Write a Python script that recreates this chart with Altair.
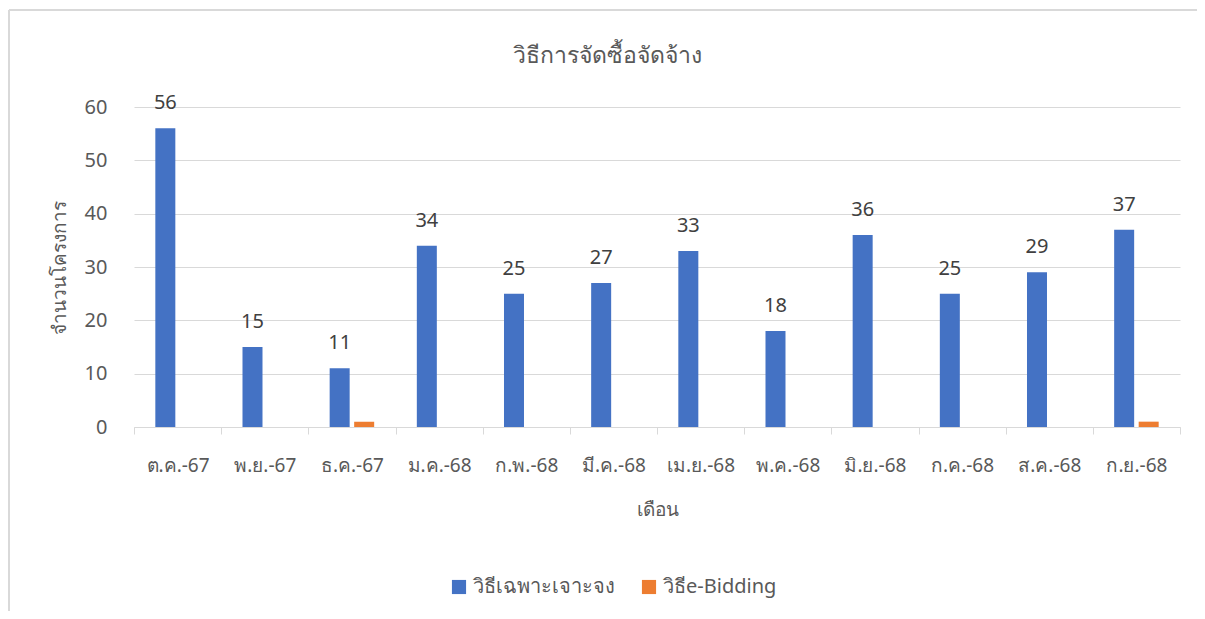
import altair as alt
import pandas as pd

months = ["ต.ค.-67", "พ.ย.-67", "ธ.ค.-67", "ม.ค.-68", "ก.พ.-68", "มี.ค.-68",
          "เม.ย.-68", "พ.ค.-68", "มิ.ย.-68", "ก.ค.-68", "ส.ค.-68", "ก.ย.-68"]
series_names = ["วิธีเฉพาะเจาะจง", "วิธีe-Bidding"]
specific = [56, 15, 11, 34, 25, 27, 33, 18, 36, 25, 29, 37]
ebidding = [0, 0, 1, 0, 0, 0, 0, 0, 0, 0, 0, 1]
colors = ["#4472C4", "#ED7D31"]

rows = []
for i, m in enumerate(months):
    rows.append({"month": m, "series": series_names[0], "value": specific[i]})
    rows.append({"month": m, "series": series_names[1], "value": ebidding[i]})
df = pd.DataFrame(rows)

FONT = "Noto Sans"
GREY = "#595959"

x_enc = alt.X("month:N", sort=months,
              scale=alt.Scale(paddingInner=0, paddingOuter=0),
              axis=alt.Axis(title="เดือน", labelAngle=0, tickBand="extent",
                            tickSize=7, tickColor="#d9d9d9", domainColor="#d9d9d9",
                            labelPadding=22, labelFontSize=19, labelColor=GREY,
                            titleFontSize=19, titleColor=GREY, titleFontWeight="normal",
                            titlePadding=25, labelFont=FONT, titleFont=FONT, grid=False))
xoff = alt.XOffset("series:N", sort=series_names,
                   scale=alt.Scale(domain=series_names, paddingInner=0.184, paddingOuter=0.87))

bars = alt.Chart(df).mark_bar().encode(
    x=x_enc,
    xOffset=xoff,
    y=alt.Y("value:Q", scale=alt.Scale(domain=[0, 60]),
            axis=alt.Axis(title="จำนวนโครงการ", values=[0, 10, 20, 30, 40, 50, 60],
                          ticks=False, domain=False, gridColor="#d9d9d9",
                          labelPadding=27, labelFontSize=20, labelColor=GREY,
                          titleFontSize=19, titleColor=GREY, titleFontWeight="normal",
                          titlePadding=15, labelFont=FONT, titleFont=FONT)),
    color=alt.Color("series:N", sort=series_names,
                    scale=alt.Scale(domain=series_names, range=colors),
                    legend=alt.Legend(title=None, orient="none", direction="horizontal",
                                      legendX=315, legendY=470, symbolType="square",
                                      symbolSize=200, symbolStrokeWidth=0,
                                      labelFontSize=20, labelColor=GREY, labelFont=FONT,
                                      columnPadding=24, labelOffset=4)),
)

labels = alt.Chart(df).transform_filter(
    alt.datum.series == series_names[0]
).mark_text(baseline="alphabetic", dy=-19, fontSize=20, color="#404040", font=FONT).encode(
    x=alt.X("month:N", sort=months),
    xOffset=xoff,
    y=alt.Y("value:Q"),
    text=alt.Text("value:Q"),
)

frame = alt.Chart(alt.Data(values=[{"k": 1}])).mark_rule(color="#d9d9d9", strokeWidth=2).encode(
    x=alt.value(-125), y=alt.value(-97), y2=alt.value(504))
frame_top = alt.Chart(alt.Data(values=[{"k": 1}])).mark_rule(color="#d9d9d9", strokeWidth=2).encode(
    x=alt.value(-125), x2=alt.value(1063), y=alt.value(-97))

chart = alt.layer(frame, frame_top, bars, labels).properties(
    width=1046, height=320,
    title=alt.TitleParams("วิธีการจัดซื้อจัดจ้าง", fontSize=23, font=FONT, color=GREY,
                          fontWeight="normal", anchor="middle", dx=-50, offset=-59),
    autosize=alt.AutoSizeParams(type="none"),
    padding={"left": 126, "top": 99, "right": 17, "bottom": 184},
).configure(background="white").configure_view(stroke=None)

chart.save("out.html", embed_options={"renderer": "svg", "actions": False})
